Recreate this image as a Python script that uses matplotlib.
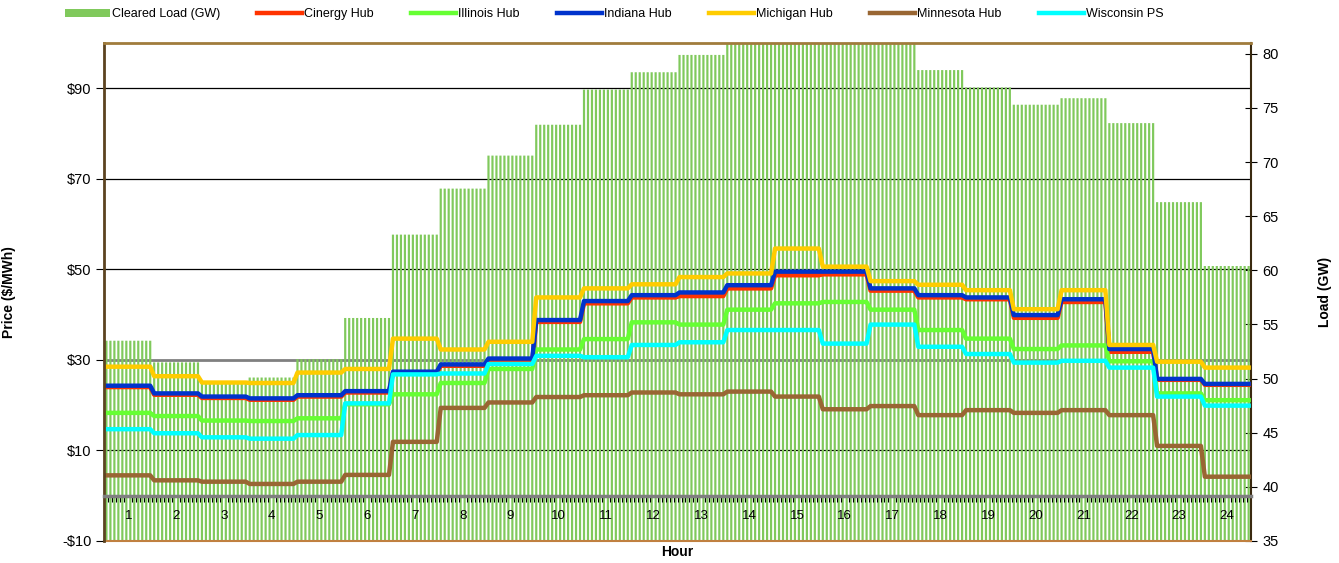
import numpy as np
import matplotlib
matplotlib.use("Agg")
import matplotlib.pyplot as plt
from matplotlib.ticker import FixedLocator, FuncFormatter
from matplotlib.transforms import blended_transform_factory

plt.rcParams['font.family'] = ['Liberation Sans', 'DejaVu Sans']

# hourly values, each hour is shown as 12 five-minute intervals
hours = list(range(1, 25))
load_gw = [53.5, 51.5, 49.75, 50.1, 51.8, 55.6, 63.3, 67.55, 70.6, 73.45, 76.7, 78.3,
           79.9, 81.5, 82.0, 82.3, 81.8, 78.5, 76.9, 75.3, 75.9, 73.6, 66.3, 60.4]

cinergy = [24.0, 22.3, 21.6, 21.2, 21.9, 22.8, 27.1, 28.7, 29.7, 38.4, 42.5, 43.8,
           44.1, 45.8, 48.7, 48.9, 45.3, 43.8, 43.4, 39.3, 42.8, 31.8, 25.6, 24.5]
illinois = [18.3, 17.6, 16.6, 16.5, 17.1, 20.2, 22.4, 24.9, 28.0, 32.3, 34.6, 38.3,
            37.8, 41.1, 42.5, 42.8, 41.1, 36.6, 34.7, 32.4, 33.2, 29.7, 22.6, 21.1]
indiana = [24.3, 22.6, 21.9, 21.5, 22.2, 23.1, 27.4, 29.0, 30.3, 38.8, 43.0, 44.3,
           44.9, 46.5, 49.5, 49.5, 45.8, 44.3, 43.8, 39.9, 43.4, 32.4, 25.8, 24.7]
michigan = [28.5, 26.4, 25.0, 24.9, 27.2, 28.0, 34.7, 32.3, 34.0, 43.8, 45.8, 46.7,
            48.3, 49.1, 54.6, 50.6, 47.4, 46.6, 45.4, 41.2, 45.4, 33.3, 29.6, 28.3]
minnesota = [4.5, 3.4, 3.1, 2.6, 3.1, 4.6, 11.9, 19.4, 20.6, 21.8, 22.2, 22.8,
             22.4, 23.0, 21.9, 19.1, 19.8, 17.8, 18.9, 18.3, 18.9, 17.8, 11.0, 4.2]
wisconsin = [14.7, 13.8, 12.9, 12.6, 13.4, 20.4, 26.8, 27.0, 29.1, 30.9, 30.6, 33.3,
             33.9, 36.6, 36.6, 33.6, 37.8, 32.9, 31.3, 29.4, 29.8, 28.3, 21.9, 19.9]

series = [
    ("Cinergy Hub", cinergy, "#ff3300"),
    ("Illinois Hub", illinois, "#66ff33"),
    ("Indiana Hub", indiana, "#0033cc"),
    ("Michigan Hub", michigan, "#ffcc00"),
    ("Minnesota Hub", minnesota, "#996633"),
    ("Wisconsin PS", wisconsin, "#00ffff"),
]

per_hour = 12
idx = np.arange(len(hours) * per_hour)

fig = plt.figure(figsize=(13.39, 5.63), dpi=100)
ax = fig.add_axes([0.0777, 0.0391, 0.8566, 0.8845])
ax2 = ax.twinx()

# load bars on the right axis, underneath everything
bars = ax2.bar(idx, np.repeat(load_gw, per_hour), width=0.55, color="#80c95c", zorder=2,
               label="Cleared Load (GW)")
for b in bars:
    b.set_snap(False)
ax2.set_ylim(35, 81)
ax2.set_yticks(np.arange(35, 81, 5))
ax2.tick_params(axis="y", direction="inout", length=8, labelsize=10.5, pad=4)
ax2.set_ylabel("Load (GW)", fontsize=10, fontweight="bold")
ax2.yaxis.set_label_coords(1.058, 0.5)

# price grid drawn on the bar axes so the bars cover it
blend = blended_transform_factory(ax2.transAxes, ax.transData)
for v in [10, 50, 70, 90]:
    ax2.plot([0, 1], [v, v], color="black", lw=0.9, transform=blend, zorder=1)
ax2.plot([0, 1], [30, 30], color="#808080", lw=2, transform=blend, zorder=1)

for sp in ["left", "top"]:
    ax2.spines[sp].set_visible(False)
ax2.spines["right"].set_color("#3a2a10")
ax2.spines["right"].set_linewidth(1.5)
ax2.spines["bottom"].set_color("#c08040")
ax2.spines["bottom"].set_linewidth(1.5)

# price lines on top
ax.set_zorder(ax2.get_zorder() + 1)
ax.patch.set_visible(False)
for name, vals, col in series:
    ax.plot(idx, np.repeat(vals, per_hour), color=col, lw=3.2, label=name,
            solid_joinstyle="round")

ax.set_xlim(-0.6, len(idx) - 0.4)
ax.set_ylim(-10, 100)
ax.yaxis.set_major_locator(FixedLocator(np.arange(-10, 91, 20)))
ax.yaxis.set_major_formatter(FuncFormatter(
    lambda v, p: f"${v:.0f}" if v >= 0 else f"-${-v:.0f}"))
ax.tick_params(axis="y", direction="out", length=6, labelsize=10.5, pad=3)
ax.set_ylabel("Price ($/MWh)", fontsize=10, fontweight="bold")
ax.yaxis.set_label_coords(-0.077, 0.5)

# hour axis crosses at $0
ax.spines["bottom"].set_position(("data", 0))
ax.spines["bottom"].set_color("#7f7f7f")
ax.spines["bottom"].set_linewidth(2.5)
ax.xaxis.set_major_locator(FixedLocator(np.arange(len(hours)) * per_hour + 5.5))
ax.xaxis.set_major_formatter(FuncFormatter(lambda v, p: str(int((v - 5.5) / per_hour) + 1)))
ax.xaxis.set_minor_locator(FixedLocator(idx - 0.5))
ax.tick_params(axis="x", which="major", length=0, labelsize=9.5, pad=10)
ax.tick_params(axis="x", which="minor", direction="out", length=4, width=0.8, color="black")
ax.set_xlabel("Hour", fontsize=10, fontweight="bold")
ax.xaxis.set_label_coords(0.5, -0.008)

ax.spines["left"].set_color("#5c4320")
ax.spines["left"].set_linewidth(2)
ax.spines["top"].set_color("#a07c3c")
ax.spines["top"].set_linewidth(2)
ax.spines["right"].set_visible(False)

h1, l1 = ax2.get_legend_handles_labels()
h2, l2 = ax.get_legend_handles_labels()
fig.legend(h1 + h2, l1 + l2, loc="upper left", bbox_to_anchor=(0.04, 1.005), ncol=7,
           frameon=False, fontsize=9, handlelength=3.6, handleheight=0.5,
           handletextpad=0.15, columnspacing=3.0)

fig.savefig("out.png", dpi=100)
